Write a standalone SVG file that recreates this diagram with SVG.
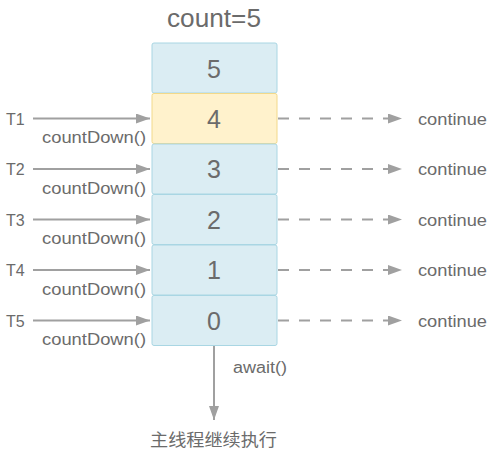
<svg xmlns="http://www.w3.org/2000/svg" width="500" height="456" viewBox="0 0 500 456">
<style>
text{font-family:"Liberation Sans","Noto Sans CJK SC",sans-serif;fill:#6b6b6b}
.box{fill:#dbedf3;stroke:#a9d6e3;stroke-width:1}
.hl{fill:#fff2cc;stroke:#f2d98a;stroke-width:1}
.num{font-size:25px;text-anchor:middle}
.t{font-size:16px}
.cd{font-size:16px}
.ln{stroke:#a0a0a0;stroke-width:2;fill:none}
.dash{stroke-dasharray:11 10}
</style>
<defs>
<marker id="ah" markerUnits="userSpaceOnUse" markerWidth="15" markerHeight="12" refX="14" refY="5" orient="auto">
<path d="M0,0 L14,5 L0,10 Z" fill="#a0a0a0"/>
</marker>
</defs>
<text x="214" y="27" font-size="25" text-anchor="middle" textLength="94" lengthAdjust="spacingAndGlyphs">count=5</text>
<g id="box5"><rect class="box" x="152" y="43" width="125" height="50" rx="2"/><text class="num" x="214" y="78">5</text></g>
<g id="box4"><rect class="hl" x="152" y="93.5" width="125" height="50" rx="2"/><text class="num" x="214" y="127.5">4</text></g>
<g id="box3"><rect class="box" x="152" y="144" width="125" height="50" rx="2"/><text class="num" x="214" y="178">3</text></g>
<g id="box2"><rect class="box" x="152" y="194.5" width="125" height="50" rx="2"/><text class="num" x="214" y="228.5">2</text></g>
<g id="box1"><rect class="box" x="152" y="245" width="125" height="50" rx="2"/><text class="num" x="214" y="279">1</text></g>
<g id="box0"><rect class="box" x="152" y="295.5" width="125" height="50" rx="2"/><text class="num" x="214" y="329.5">0</text></g>
<g id="connectors">
<line class="ln" x1="33" y1="118.5" x2="150" y2="118.5" marker-end="url(#ah)"/>
<line class="ln" x1="33" y1="169" x2="150" y2="169" marker-end="url(#ah)"/>
<line class="ln" x1="33" y1="219.5" x2="150" y2="219.5" marker-end="url(#ah)"/>
<line class="ln" x1="33" y1="270" x2="150" y2="270" marker-end="url(#ah)"/>
<line class="ln" x1="33" y1="320.5" x2="150" y2="320.5" marker-end="url(#ah)"/>
<line class="ln dash" x1="278" y1="118.5" x2="402" y2="118.5" marker-end="url(#ah)"/>
<line class="ln dash" x1="278" y1="169" x2="402" y2="169" marker-end="url(#ah)"/>
<line class="ln dash" x1="278" y1="219.5" x2="402" y2="219.5" marker-end="url(#ah)"/>
<line class="ln dash" x1="278" y1="270" x2="402" y2="270" marker-end="url(#ah)"/>
<line class="ln dash" x1="278" y1="320.5" x2="402" y2="320.5" marker-end="url(#ah)"/>
<line class="ln" x1="214" y1="346" x2="214" y2="420" marker-end="url(#ah)"/>
</g>
<g id="labels">
<text class="t" x="6" y="124.5">T1</text>
<text class="t" x="6" y="175">T2</text>
<text class="t" x="6" y="225.5">T3</text>
<text class="t" x="6" y="276">T4</text>
<text class="t" x="6" y="326.5">T5</text>
<text class="cd" x="42" y="143" textLength="104" lengthAdjust="spacingAndGlyphs">countDown()</text>
<text class="cd" x="42" y="193.5" textLength="104" lengthAdjust="spacingAndGlyphs">countDown()</text>
<text class="cd" x="42" y="244" textLength="104" lengthAdjust="spacingAndGlyphs">countDown()</text>
<text class="cd" x="42" y="294.5" textLength="104" lengthAdjust="spacingAndGlyphs">countDown()</text>
<text class="cd" x="42" y="345" textLength="104" lengthAdjust="spacingAndGlyphs">countDown()</text>
<text class="t" x="418" y="124.5" textLength="69" lengthAdjust="spacingAndGlyphs">continue</text>
<text class="t" x="418" y="175" textLength="69" lengthAdjust="spacingAndGlyphs">continue</text>
<text class="t" x="418" y="225.5" textLength="69" lengthAdjust="spacingAndGlyphs">continue</text>
<text class="t" x="418" y="276" textLength="69" lengthAdjust="spacingAndGlyphs">continue</text>
<text class="t" x="418" y="326.5" textLength="69" lengthAdjust="spacingAndGlyphs">continue</text>
<text class="t" x="233" y="372.5" textLength="54" lengthAdjust="spacingAndGlyphs">await()</text>
<text x="150" y="446" font-size="17" textLength="127" lengthAdjust="spacingAndGlyphs">主线程继续执行</text>
</g>
</svg>
